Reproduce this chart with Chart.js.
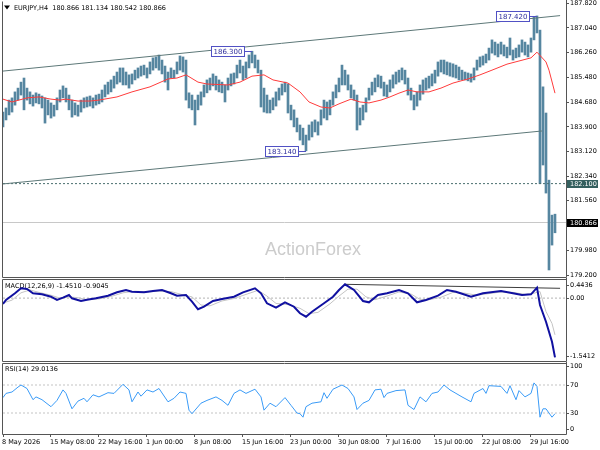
<!DOCTYPE html>
<html>
<head>
<meta charset="utf-8">
<script src="https://cdn.jsdelivr.net/npm/chart.js@4.4.1/dist/chart.umd.min.js"></script>
<style>
  body { margin: 0; background: #fff; }
  #wrap { position: relative; width: 600px; height: 450px; background: #fff; }
  #wrap canvas { position: absolute; left: 0; }
</style>
</head>
<body>
<div id="wrap">
  <canvas id="priceChart" width="600" height="278" style="top:0"></canvas>
  <canvas id="macdChart" width="600" height="84" style="top:278px"></canvas>
  <canvas id="rsiChart" width="600" height="88" style="top:362px"></canvas>
</div>
<script>
// time axis labels, one every 16 bars
const xLabels = ['8 May 2026', '15 May 08:00', '22 May 16:00', '1 Jun 00:00', '8 Jun 08:00', '15 Jun 16:00',
  '23 Jun 00:00', '30 Jun 08:00', '7 Jul 16:00', '15 Jul 00:00', '22 Jul 08:00', '29 Jul 16:00'];
const xLabelIdx = [0, 16, 32, 48, 64, 80, 96, 112, 128, 144, 160, 176];

// EURJPY H4 bars (high / low)
const highs = [
  184.37,184.50,184.75,184.82,185.01,185.13,185.32,185.45,185.13,185.01,
  184.91,184.98,184.94,184.88,184.82,184.75,184.66,184.59,184.82,185.07,
  185.20,185.13,184.91,184.75,184.66,184.59,184.75,184.82,184.85,184.88,
  184.82,184.91,184.94,185.07,185.23,185.32,185.39,185.51,185.64,185.77,
  185.77,185.64,185.55,185.58,185.70,185.77,185.83,185.86,185.77,185.96,
  186.09,186.12,186.18,186.02,185.83,185.64,185.77,185.70,185.96,186.15,
  186.12,186.02,184.98,184.91,184.75,184.91,185.01,185.23,185.39,185.45,
  185.58,185.51,185.39,185.32,185.23,185.45,185.58,185.61,185.86,186.02,
  185.83,185.96,186.18,186.30,186.18,186.02,185.70,185.13,184.91,184.75,
  184.82,185.01,185.13,185.26,185.32,185.26,184.59,184.44,184.18,183.96,
  183.86,183.64,183.96,184.06,184.12,184.06,184.44,184.75,184.69,184.75,
  185.01,185.23,185.45,185.86,185.70,185.55,185.23,185.07,184.91,184.50,
  184.59,184.82,185.13,185.32,185.45,185.55,185.51,185.32,185.23,185.39,
  185.55,185.64,185.70,185.77,185.70,185.45,185.13,184.91,185.01,185.23,
  185.39,185.45,185.51,185.58,185.70,185.96,186.02,186.02,185.96,185.93,
  185.90,185.86,185.80,185.70,185.64,185.61,185.58,185.77,186.02,186.12,
  186.15,186.21,186.40,186.66,186.59,186.53,186.59,186.50,186.43,186.72,
  186.34,186.40,186.50,186.66,186.59,186.50,186.72,187.38,187.42,186.97,
  185.17,184.34,182.21,181.10,181.13
];
const lows = [
  183.90,184.12,184.28,184.37,184.59,184.75,184.91,184.44,184.75,184.63,
  184.56,184.66,184.63,184.50,184.02,184.28,184.18,184.24,184.44,184.69,
  184.82,184.69,184.44,184.21,184.28,184.24,184.37,184.50,184.53,184.56,
  184.50,184.59,184.63,184.69,184.85,184.94,185.01,185.13,185.26,185.32,
  185.23,185.23,185.13,185.26,185.39,185.45,185.51,185.55,185.45,185.58,
  185.70,185.77,185.70,185.58,185.32,185.07,185.45,185.45,185.58,185.70,
  185.64,184.75,184.50,184.44,183.96,184.44,184.59,184.85,184.98,185.07,
  185.20,185.07,185.01,184.98,184.69,185.07,185.20,185.26,185.45,185.61,
  185.39,185.45,185.77,185.93,185.77,185.61,184.53,184.37,184.34,184.34,
  184.44,184.56,184.75,184.91,185.01,184.34,184.12,183.90,183.74,183.48,
  183.33,183.14,183.48,183.58,183.74,183.64,183.96,184.18,184.12,184.28,
  184.59,184.82,185.01,185.23,185.23,185.07,184.82,184.75,183.80,183.96,
  184.12,184.37,184.75,184.91,185.01,185.17,185.13,184.88,184.85,185.01,
  185.13,185.26,185.32,185.39,185.26,184.91,184.75,184.44,184.56,184.75,
  184.94,185.07,185.13,185.20,185.29,185.51,185.64,185.58,185.55,185.51,
  185.48,185.45,185.39,185.39,185.39,185.36,185.32,185.39,185.70,185.80,
  185.86,185.93,186.02,186.24,186.18,186.12,186.21,186.15,186.09,186.18,
  186.02,186.09,186.12,186.27,186.18,186.12,186.27,186.66,186.88,182.10,
  182.69,181.80,179.36,180.15,180.54
];

// red moving average
const maIdx = [0,3,8,12,16,19,21,25,29,32,38,43,49,55,58,61,65,68,75,79,83,87,90,95,99,102,106,109,112,116,
  119,122,126,129,132,135,138,142,146,150,155,159,163,168,172,176,178,181,182,184];
const maVal = [184.78,184.69,184.82,184.85,184.78,184.75,184.78,184.72,184.72,184.75,
  184.85,185.01,185.17,185.42,185.45,185.55,185.32,185.26,185.23,185.32,
  185.51,185.55,185.39,185.29,185.01,184.69,184.53,184.50,184.63,184.78,
  184.69,184.66,184.75,184.85,184.97,185.07,185.01,185.01,185.13,185.29,
  185.42,185.55,185.70,185.89,185.99,186.09,186.27,185.96,185.70,184.97];

// channel trendlines
const upperIdx = [0, 185.7];
const upperVal = [185.67, 187.43];
const lowerIdx = [0, 179.7];
const lowerVal = [182.09, 183.77];

// marked highs / lows
const peakIdx = [83, 101, 178];
const peakVal = [186.30, 183.14, 187.42];
const peakText = ['186.300', '183.140', '187.420'];

const levelPrice = 182.100;
const lastPrice = 180.866;
const priceTicks = [187.82, 187.04, 186.26, 185.48, 184.68, 183.90, 183.12, 182.34, 181.56, 180.78, 179.98, 179.20];

// MACD(12,26,9)
const macdIdx = [0,1,4,6,8,10,13,16,18,20,22,23,26,28,31,35,38,41,43,47,50,53,56,58,61,63,65,67,70,73,
  77,80,84,86,88,91,94,97,99,101,103,107,110,112,114,117,120,122,125,128,132,135,138,141,145,148,151,156,160,166,
  170,173,176,178,179,181,183,184];
const macdVal = [-0.145,-0.046,0.118,0.240,0.223,0.118,0.093,0.034,-0.046,0.010,
  0.076,-0.005,-0.071,-0.039,-0.005,0.059,0.142,0.199,0.157,0.142,
  0.174,0.199,0.118,0.059,0.076,-0.088,-0.274,-0.211,-0.071,-0.022,
  0.034,0.142,0.240,0.118,-0.127,-0.235,-0.103,-0.211,-0.372,-0.456,
  -0.333,-0.127,0.034,0.199,0.338,0.199,-0.071,-0.103,0.076,0.118,
  0.199,0.118,-0.103,-0.046,0.059,0.199,0.157,0.034,0.118,0.174,
  0.118,0.076,0.093,0.255,-0.169,-0.578,-1.068,-1.451];
const signalIdx = [0,3,6,9,12,16,19,22,25,28,32,36,40,44,48,52,56,60,63,66,69,73,77,81,85,88,91,95,99,102,
  105,109,112,115,118,121,124,128,132,136,139,142,146,150,154,158,162,166,170,174,177,179,181,183,184];
const signalVal = [-0.12,-0.05,0.13,0.20,0.14,0.07,0.00,0.03,0.01,-0.04,
  -0.02,0.04,0.13,0.17,0.15,0.17,0.16,0.08,0.03,-0.17,
  -0.19,-0.07,-0.01,0.09,0.19,0.05,-0.13,-0.16,-0.25,-0.38,
  -0.35,-0.14,0.05,0.22,0.22,0.03,-0.04,0.05,0.15,0.10,
  -0.03,-0.04,0.02,0.14,0.12,0.07,0.11,0.15,0.14,0.09,
  0.12,0.16,-0.33,-0.62,-0.90];
const macdTrendIdx = [114, 185.7];
const macdTrendVal = [0.338, 0.240];
const macdTickVals = [0.32, 0, -1.42];
const macdTickText = ['0.4436', '0.00', '-1.5412'];

// RSI(14)
const rsiIdx = [0,1,3,5,6,8,10,11,13,16,18,20,21,23,25,27,28,30,32,35,37,40,42,43,45,46,48,50,52,55,
  57,59,61,62,63,66,68,71,73,75,77,79,81,84,86,87,89,91,94,96,98,99,100,101,103,106,107,108,110,113,
  115,117,118,120,122,124,126,127,128,131,134,135,137,139,141,143,145,147,149,151,153,156,157,160,161,162,166,168,169,171,
  172,174,176,177,178,179,180,181,183,184];
const rsiVal = [52,58,60,67,70,65,49,53,49,39, 48,63,58,36,47,51,46,56,53,59,
  58,71,63,46,60,54,63,60,65,46, 51,60,58,34,29,44,48,53,48,41,
  58,63,58,64,53,34,44,39,52,41, 30,29,24,39,44,46,59,51,64,70,
  65,53,35,44,48,63,64,52,58,62, 63,41,35,53,46,58,60,70,63,58,
  53,46,58,65,58,69,68,58,69,49, 62,53,58,73,68,24,36,36,24,29];
const rsiLevels = [70, 30];
const rsiTickVals = [96, 70, 30, 7];
const rsiTickText = ['100', '70', '30', '0'];

const X_MIN = 0, X_MAX = 187.67;
const FONT = { family: 'DejaVu Sans', size: 6.5 };

const pts = (xs, ys) => xs.map((x, k) => ({ x: x, y: ys[k] }));
const hline = v => [{ x: X_MIN, y: v }, { x: X_MAX, y: v }];

function lineSet(data, color, width, order, dash) {
  return { type: 'line', data: data, borderColor: color, borderWidth: width, borderDash: dash || [],
    pointRadius: 0, tension: 0, fill: false, order: order };
}

function xScale(show) {
  return {
    type: 'linear', min: X_MIN, max: X_MAX, offset: false, display: show,
    afterBuildTicks: s => { s.ticks = xLabelIdx.map(v => ({ value: v })); },
    afterFit: s => { if (show) { s.height = 16; s.paddingLeft = 0; s.paddingRight = 0; } },
    grid: { drawOnChartArea: false, tickLength: 3, color: '#555' },
    border: { display: false },
    ticks: { font: FONT, color: '#000', align: 'start', padding: 1, maxRotation: 0, autoSkip: false, labelOffset: -1,
      callback: v => { const k = xLabelIdx.indexOf(v); return k < 0 ? '' : xLabels[k]; } }
  };
}

function yScale(min, max, vals, fmt) {
  return {
    type: 'linear', position: 'right', min: min, max: max,
    afterBuildTicks: s => { s.ticks = vals.map(v => ({ value: v })); },
    afterFit: s => { s.width = 34; s.paddingTop = 0; s.paddingBottom = 0; },
    grid: { drawOnChartArea: false, tickLength: 3, color: '#555' },
    border: { display: false },
    ticks: { font: FONT, color: '#000', padding: 1, autoSkip: false, callback: fmt }
  };
}

function framePlugin(withTop) {
  return {
    id: 'frame',
    beforeDraw(chart) {
      const { ctx, chartArea: a } = chart;
      ctx.save();
      ctx.strokeStyle = '#555';
      ctx.lineWidth = 1;
      ctx.beginPath();
      if (withTop) {
        ctx.moveTo(a.left - 0.5, a.top - 0.5);
        ctx.lineTo(a.right + 0.5, a.top - 0.5);
      }
      ctx.moveTo(a.left - 0.5, a.top - 0.5);
      ctx.lineTo(a.left - 0.5, a.bottom + 0.5);
      ctx.lineTo(a.right + 0.5, a.bottom + 0.5);
      ctx.moveTo(a.right + 0.5, 0);
      ctx.lineTo(a.right + 0.5, a.bottom + 0.5);
      ctx.stroke();
      ctx.restore();
    }
  };
}

function captionPlugin(text, x, y, triangle) {
  return {
    id: 'caption',
    beforeDatasetsDraw(chart) {
      const ctx = chart.ctx;
      ctx.save();
      ctx.fillStyle = '#000';
      if (triangle) {
        ctx.beginPath();
        ctx.moveTo(4, 5.5); ctx.lineTo(10, 5.5); ctx.lineTo(7, 9.5);
        ctx.closePath(); ctx.fill();
      }
      ctx.font = '6.5px "DejaVu Sans"';
      ctx.textBaseline = 'middle';
      ctx.fillText(text, x, y);
      ctx.restore();
    }
  };
}

const watermarkPlugin = {
  id: 'watermark',
  beforeDatasetsDraw(chart) {
    const ctx = chart.ctx;
    ctx.save();
    ctx.font = '18px "Liberation Sans"';
    ctx.fillStyle = '#cccccc';
    ctx.textBaseline = 'alphabetic';
    ctx.fillText('ActionForex', 265, 255);
    ctx.restore();
  }
};

const peakPlugin = {
  id: 'peaks',
  afterDatasetsDraw(chart) {
    const { ctx, scales } = chart;
    ctx.save();
    ctx.font = '7px "DejaVu Sans"';
    ctx.textBaseline = 'middle';
    ctx.lineWidth = 1;
    peakIdx.forEach((idx, k) => {
      const bx = Math.round(scales.x.getPixelForValue(idx));
      const py = Math.round(scales.y.getPixelForValue(peakVal[k])) + 0.5;
      const w = Math.round(ctx.measureText(peakText[k]).width) + 4;
      const right = bx - 7.5;
      const left = right - w;
      ctx.fillStyle = '#fff';
      ctx.fillRect(left, py - 5, w, 10);
      ctx.strokeStyle = '#5151c4';
      ctx.strokeRect(left, py - 5, w, 10);
      ctx.beginPath();
      ctx.moveTo(right, py);
      ctx.lineTo(bx, py);
      ctx.stroke();
      ctx.fillStyle = '#2d2d9c';
      ctx.fillText(peakText[k], left + 2, py + 0.5);
    });
    ctx.restore();
  }
};

const priceTagPlugin = {
  id: 'priceTags',
  afterDraw(chart) {
    const { ctx, chartArea: a, scales } = chart;
    ctx.save();
    ctx.font = '6.5px "DejaVu Sans"';
    ctx.textBaseline = 'middle';
    const tag = (v, bg) => {
      const py = Math.round(scales.y.getPixelForValue(v));
      ctx.fillStyle = bg;
      ctx.fillRect(a.right + 1, py - 4, 31, 8);
      ctx.fillStyle = '#fff';
      ctx.fillText(v.toFixed(3), a.right + 4, py + 0.5);
    };
    tag(levelPrice, '#35605f');
    tag(lastPrice, '#000');
    ctx.restore();
  }
};

const baseOptions = (padding) => ({
  responsive: false,
  animation: false,
  events: [],
  layout: { padding: padding },
  plugins: { legend: { display: false }, tooltip: { enabled: false } }
});

// price panel
new Chart(document.getElementById('priceChart'), {
  type: 'bar',
  data: {
    datasets: [
      { type: 'bar', data: highs.map((h, k) => ({ x: k, y: [lows[k], h] })),
        backgroundColor: '#5686a0', borderWidth: 0, barThickness: 2, order: 6 },
      lineSet(hline(levelPrice), '#4a6f6f', 1, 5, [2, 2]),
      lineSet(hline(lastPrice), '#c8c8c8', 1, 7),
      lineSet(pts(upperIdx, upperVal), '#5d7878', 1, 2),
      lineSet(pts(lowerIdx, lowerVal), '#5d7878', 1, 2),
      lineSet(pts(maIdx, maVal), '#ff3b3b', 1, 1)
    ]
  },
  options: Object.assign(baseOptions({ left: 3, top: 2, right: 0, bottom: 1 }), {
    scales: {
      x: xScale(false),
      y: yScale(179.137, 187.862, priceTicks, v => v.toFixed(3))
    }
  }),
  plugins: [framePlugin(false), captionPlugin('EURJPY,H4  180.866 181.134 180.542 180.866', 14, 8, true),
    watermarkPlugin, peakPlugin, priceTagPlugin]
});

// MACD panel
new Chart(document.getElementById('macdChart'), {
  type: 'line',
  data: {
    datasets: [
      lineSet(pts(macdIdx, macdVal), '#1010a0', 2, 1),
      lineSet(pts(signalIdx, signalVal), '#c4c4c4', 1, 2),
      lineSet(hline(0), '#b4b4b4', 1, 4, [2, 2]),
      lineSet(pts(macdTrendIdx, macdTrendVal), '#3c3c3c', 1, 3)
    ]
  },
  options: Object.assign(baseOptions({ left: 3, top: 2, right: 0, bottom: 1 }), {
    scales: {
      x: xScale(false),
      y: yScale(-1.5412, 0.4436, macdTickVals, v => { const k = macdTickVals.indexOf(v); return k < 0 ? '' : macdTickText[k]; })
    }
  }),
  plugins: [framePlugin(true), captionPlugin('MACD(12,26,9) -1.4510 -0.9045', 5, 8, false)]
});

// RSI panel
new Chart(document.getElementById('rsiChart'), {
  type: 'line',
  data: {
    datasets: [
      lineSet(pts(rsiIdx, rsiVal), '#3a9bf7', 1, 1),
      lineSet(hline(rsiLevels[0]), '#c4c4c4', 1, 3, [2, 2]),
      lineSet(hline(rsiLevels[1]), '#c4c4c4', 1, 3, [2, 2])
    ]
  },
  options: Object.assign(baseOptions({ left: 3, top: 2, right: 0, bottom: 0 }), {
    scales: {
      x: xScale(true),
      y: yScale(0, 100, rsiTickVals, v => { const k = rsiTickVals.indexOf(v); return k < 0 ? '' : rsiTickText[k]; })
    }
  }),
  plugins: [framePlugin(true), captionPlugin('RSI(14) 29.0136', 5, 7.5, false)]
});
</script>
</body>
</html>
